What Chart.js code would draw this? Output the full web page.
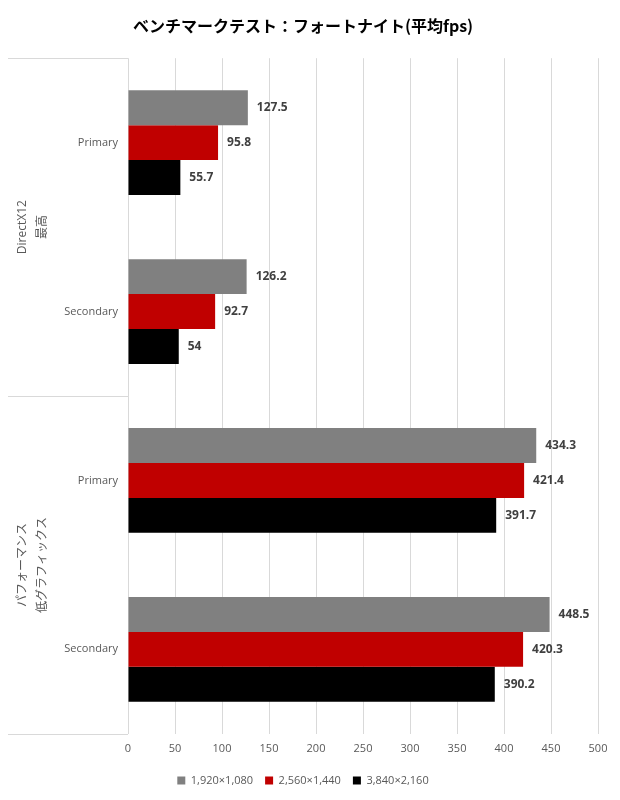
<!DOCTYPE html>
<html>
<head>
<meta charset="utf-8">
<script src="https://cdn.jsdelivr.net/npm/chart.js@4.4.0/dist/chart.umd.min.js"></script>
<style>
  html, body { margin: 0; padding: 0; background: #fff; }
  #wrap { width: 620px; height: 800px; }
</style>
</head>
<body>
<div id="wrap"><canvas id="chart" width="620" height="800"></canvas></div>
<script>
const categories = ["Primary", "Secondary", "Primary", "Secondary"];
const groups = [["DirectX12", "最高"], ["パフォーマンス", "低グラフィックス"]];
const seriesNames = ["1,920×1,080", "2,560×1,440", "3,840×2,160"];
const fhd = [127.5, 126.2, 434.3, 448.5];
const wqhd = [95.8, 92.7, 421.4, 420.3];
const uhd = [55.7, 54, 391.7, 390.2];
const colors = ["#808080", "#c00000", "#000000"];

Chart.defaults.font.family = "'Open Sans', 'Noto Sans CJK JP', sans-serif";
Chart.defaults.color = "#595959";

// value labels next to each bar
const valueLabels = {
  id: "valueLabels",
  afterDatasetsDraw(chart) {
    const ctx = chart.ctx;
    ctx.save();
    ctx.font = "bold 12px 'Open Sans', sans-serif";
    ctx.fillStyle = "#404040";
    ctx.textBaseline = "middle";
    ctx.textAlign = "left";
    chart.data.datasets.forEach((ds, i) => {
      chart.getDatasetMeta(i).data.forEach((bar, j) => {
        ctx.fillText(String(ds.data[j]), bar.x + 9, bar.y);
      });
    });
    ctx.restore();
  }
};

// outer group labels and separators on the left
const groupAxis = {
  id: "groupAxis",
  afterDraw(chart) {
    const ctx = chart.ctx;
    const y = chart.scales.y;
    const area = chart.chartArea;
    const mid = (y.getPixelForValue(1) + y.getPixelForValue(2)) / 2;
    ctx.save();
    ctx.strokeStyle = "#d9d9d9";
    ctx.lineWidth = 1;
    [area.top, mid, area.bottom].forEach(py => {
      ctx.beginPath();
      ctx.moveTo(8, Math.round(py) + 0.5);
      ctx.lineTo(area.left, Math.round(py) + 0.5);
      ctx.stroke();
    });
    const centers = [(area.top + mid) / 2, (mid + area.bottom) / 2];
    ctx.font = "12px 'Open Sans', 'Noto Sans CJK JP', sans-serif";
    ctx.fillStyle = "#595959";
    ctx.textAlign = "center";
    ctx.textBaseline = "middle";
    groups.forEach((lines, g) => {
      ctx.save();
      ctx.translate(33, centers[g]);
      ctx.rotate(-Math.PI / 2);
      lines.forEach((t, k) => {
        ctx.fillText(t, 0, (k - (lines.length - 1) / 2) * 20);
      });
      ctx.restore();
    });
    ctx.restore();
  }
};

new Chart(document.getElementById("chart"), {
  type: "bar",
  data: {
    labels: categories,
    datasets: [fhd, wqhd, uhd].map((d, i) => ({
      label: seriesNames[i],
      data: d,
      backgroundColor: colors[i],
      borderWidth: 0,
      categoryPercentage: 0.62,
      barPercentage: 1.0
    }))
  },
  options: {
    indexAxis: "y",
    responsive: false,
    animation: false,
    layout: { padding: { left: 8, right: 22, top: 0, bottom: 4 } },
    plugins: {
      title: {
        display: true,
        text: "ベンチマークテスト：フォートナイト(平均fps)",
        color: "#000",
        font: { size: 16, weight: "bold", family: "'Noto Sans CJK JP', sans-serif" },
        padding: { top: 16, bottom: 23 }
      },
      legend: {
        position: "bottom",
        labels: {
          boxWidth: 8,
          boxHeight: 8,
          padding: 12,
          color: "#595959",
          font: { size: 11 }
        }
      },
      tooltip: { enabled: false }
    },
    scales: {
      x: {
        min: 0,
        max: 500,
        ticks: { stepSize: 50, color: "#595959", font: { size: 11 }, padding: 8 },
        grid: { color: "#d9d9d9", tickLength: 0 },
        border: { display: false }
      },
      y: {
        grid: { display: false, drawTicks: false },
        border: { display: false },
        ticks: { color: "#595959", font: { size: 11 }, padding: 10 },
        afterFit(scale) { scale.width = 120; }
      }
    }
  },
  plugins: [valueLabels, groupAxis]
});
</script>
</body>
</html>
